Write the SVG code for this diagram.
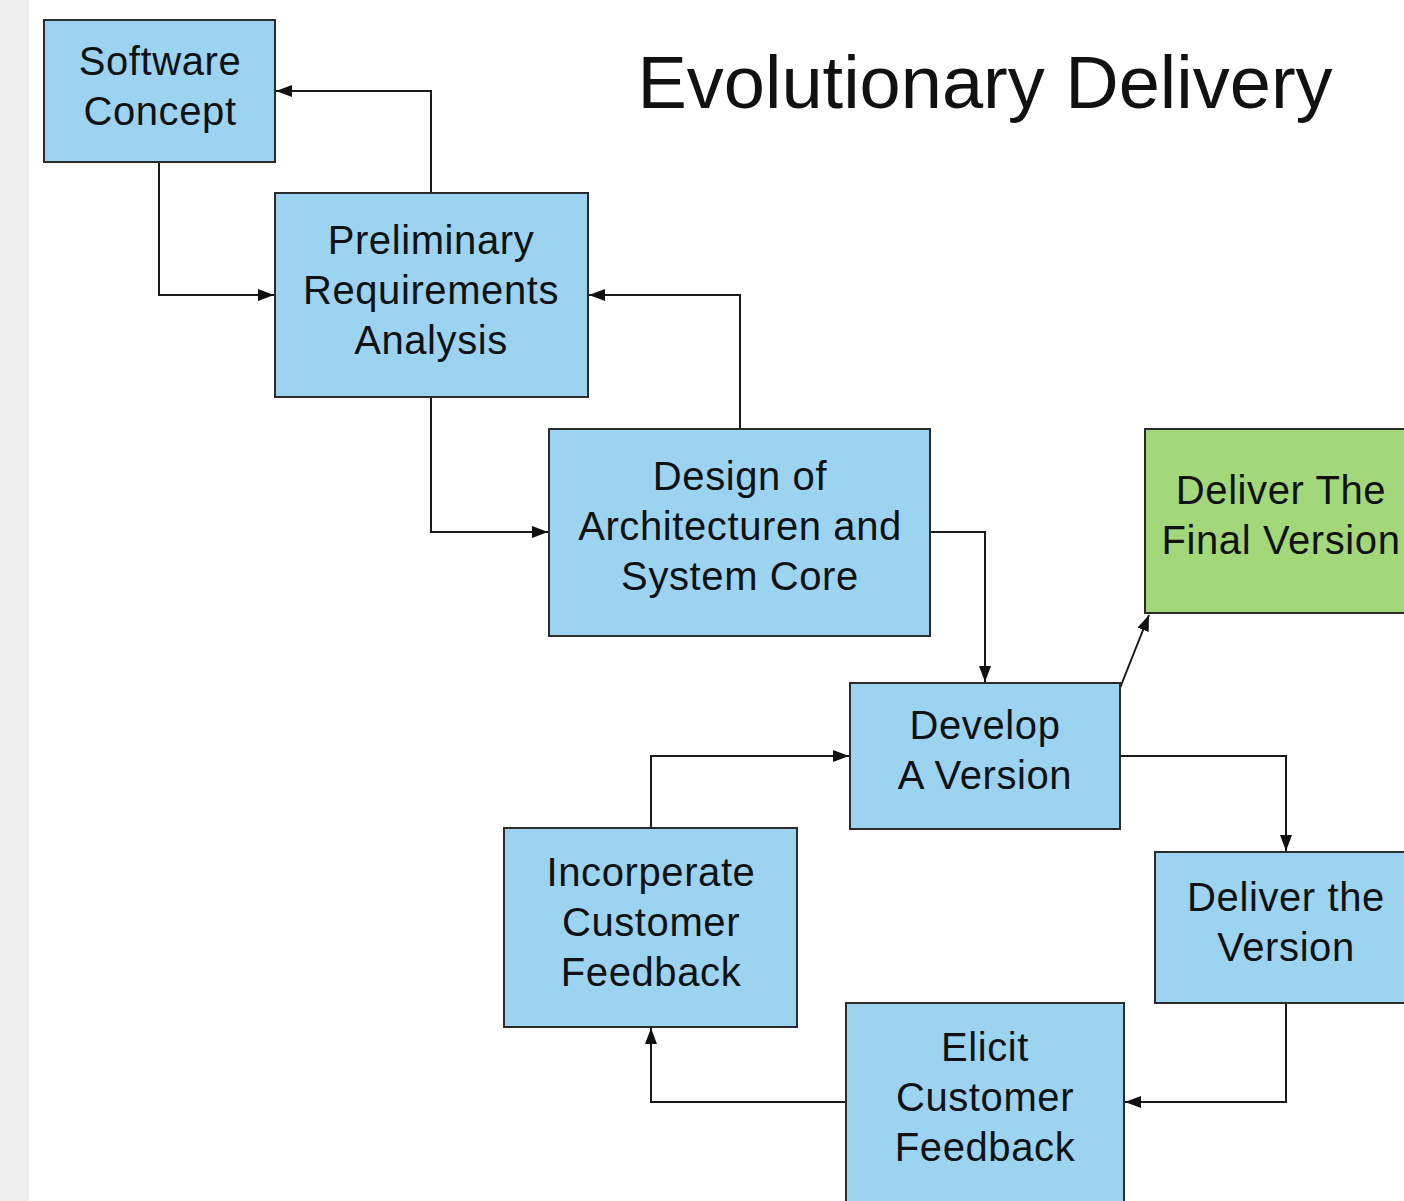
<svg xmlns="http://www.w3.org/2000/svg" width="1404" height="1201" viewBox="0 0 1404 1201">
<style>
.box{fill:#9bd3f1;stroke:#2b2b2b;stroke-width:2}
.green{fill:#a2d77a;stroke:#2b2b2b;stroke-width:2}
.t{font-family:"Liberation Sans",Arial,sans-serif;font-size:40px;letter-spacing:0.6px;fill:#111;text-anchor:middle}
.title{font-family:"Liberation Sans",Arial,sans-serif;font-size:74px;fill:#111;text-anchor:middle}
.c{fill:none;stroke:#1a1a1a;stroke-width:2}
</style>
<defs>
<marker id="a" viewBox="0 0 16 12" refX="16" refY="6" markerWidth="16" markerHeight="12" orient="auto" markerUnits="userSpaceOnUse">
<path d="M0,0 L16,6 L0,12 z" fill="#111"/>
</marker>
</defs>
<rect x="0" y="0" width="1404" height="1201" fill="#ffffff"/>
<rect x="0" y="0" width="29" height="1201" fill="#efefef"/>
<text class="title" x="985" y="108">Evolutionary Delivery</text>
<g id="connectors">
<path class="c" d="M431,193 V91 H276" marker-end="url(#a)"/>
<path class="c" d="M159,162 V295 H274" marker-end="url(#a)"/>
<path class="c" d="M740,429 V295 H589" marker-end="url(#a)"/>
<path class="c" d="M431,397 V532 H548" marker-end="url(#a)"/>
<path class="c" d="M930,532 H985 V682" marker-end="url(#a)"/>
<path class="c" d="M1120,688 L1149,615" marker-end="url(#a)"/>
<path class="c" d="M1120,756 H1286 V851" marker-end="url(#a)"/>
<path class="c" d="M1286,1003 V1102 H1125" marker-end="url(#a)"/>
<path class="c" d="M846,1102 H651 V1028" marker-end="url(#a)"/>
<path class="c" d="M651,828 V756 H849" marker-end="url(#a)"/>
</g>
<g id="software-concept">
<rect class="box" x="44" y="20" width="231" height="142"/>
<text class="t" x="160" y="75">Software</text>
<text class="t" x="160" y="125">Concept</text>
</g>
<g id="preliminary-requirements">
<rect class="box" x="275" y="193" width="313" height="204"/>
<text class="t" x="431" y="254">Preliminary</text>
<text class="t" x="431" y="304">Requirements</text>
<text class="t" x="431" y="354">Analysis</text>
</g>
<g id="design">
<rect class="box" x="549" y="429" width="381" height="207"/>
<text class="t" x="740" y="490">Design of</text>
<text class="t" x="740" y="540">Architecturen and</text>
<text class="t" x="740" y="590">System Core</text>
</g>
<g id="deliver-final">
<rect class="green" x="1145" y="429" width="270" height="184"/>
<text class="t" x="1281" y="504">Deliver The</text>
<text class="t" x="1281" y="554">Final Version</text>
</g>
<g id="develop">
<rect class="box" x="850" y="683" width="270" height="146"/>
<text class="t" x="985" y="739">Develop</text>
<text class="t" x="985" y="789">A Version</text>
</g>
<g id="incorporate">
<rect class="box" x="504" y="828" width="293" height="199"/>
<text class="t" x="651" y="886">Incorperate</text>
<text class="t" x="651" y="936">Customer</text>
<text class="t" x="651" y="986">Feedback</text>
</g>
<g id="deliver-version">
<rect class="box" x="1155" y="852" width="260" height="151"/>
<text class="t" x="1286" y="911">Deliver the</text>
<text class="t" x="1286" y="961">Version</text>
</g>
<g id="elicit">
<rect class="box" x="846" y="1003" width="278" height="210"/>
<text class="t" x="985" y="1061">Elicit</text>
<text class="t" x="985" y="1111">Customer</text>
<text class="t" x="985" y="1161">Feedback</text>
</g>
</svg>
